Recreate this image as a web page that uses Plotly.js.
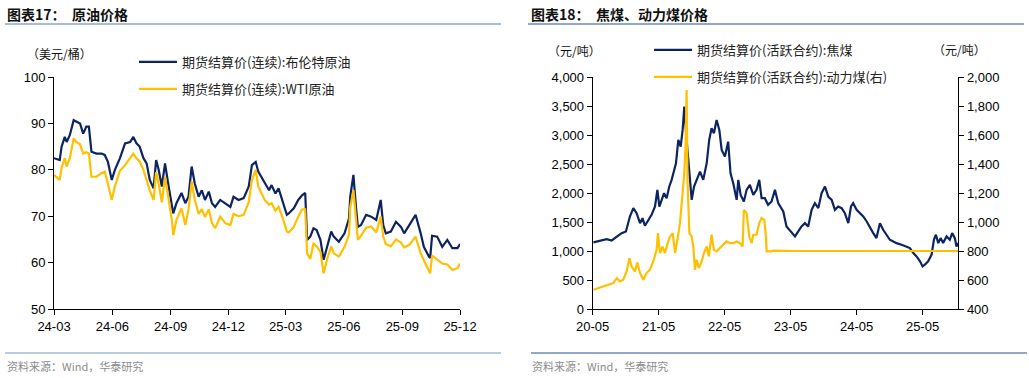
<!DOCTYPE html>
<html>
<head>
<meta charset="utf-8">
<script src="https://cdn.plot.ly/plotly-3.0.1.min.js"></script>
<style>
  html, body { margin: 0; padding: 0; background: #fff; }
  #chart { width: 1029px; height: 378px; }
</style>
</head>
<body>
<div id="chart"></div>
<script>
// ---------- Data: 图表17 原油价格 (美元/桶) ----------
const oilDates = ["2024-03-01","2024-03-10","2024-03-13","2024-03-18","2024-03-21","2024-03-26","2024-04-01","2024-04-05","2024-04-11","2024-04-16","2024-04-21","2024-04-25","2024-04-29","2024-05-07","2024-05-15","2024-05-20","2024-05-25","2024-05-31","2024-06-05","2024-06-13","2024-06-21","2024-06-29","2024-07-04","2024-07-09","2024-07-14","2024-07-20","2024-07-25","2024-07-30","2024-08-05","2024-08-09","2024-08-13","2024-08-18","2024-08-23","2024-08-28","2024-09-03","2024-09-05","2024-09-10","2024-09-18","2024-09-24","2024-09-29","2024-10-04","2024-10-09","2024-10-15","2024-10-20","2024-10-25","2024-10-31","2024-11-05","2024-11-10","2024-11-18","2024-11-26","2024-12-04","2024-12-09","2024-12-17","2024-12-25","2025-01-02","2025-01-07","2025-01-13","2025-01-17","2025-01-27","2025-02-03","2025-02-07","2025-02-13","2025-02-18","2025-02-24","2025-03-03","2025-03-06","2025-03-14","2025-03-21","2025-03-27","2025-04-01","2025-04-04","2025-04-09","2025-04-14","2025-04-19","2025-04-25","2025-04-30","2025-05-06","2025-05-12","2025-05-16","2025-05-24","2025-06-02","2025-06-09","2025-06-11","2025-06-16","2025-06-20","2025-06-23","2025-06-28","2025-07-06","2025-07-14","2025-07-22","2025-07-29","2025-08-02","2025-08-06","2025-08-14","2025-08-22","2025-08-30","2025-09-04","2025-09-12","2025-09-22","2025-09-30","2025-10-05","2025-10-13","2025-10-15","2025-10-18","2025-10-26","2025-11-03","2025-11-11","2025-11-19","2025-11-27","2025-12-01"];
const brent = [82.5,82.1,85,87.1,86,87.5,90.7,90.4,90,87.8,89.3,89.3,83.9,83.5,83.5,83.2,81.7,77.8,80,82.5,85.7,86,87.1,85.7,85,82.5,81.4,77.8,76,82.1,80,76.4,81.4,77,72,70.6,72.8,75,72.8,74.2,80.7,77,74.2,75.6,73.5,75.3,72.8,72,73.5,72.8,72,74.2,73.5,73.9,76.4,81,81.7,79.6,77.4,75.6,76.7,74.9,76,73.5,70.3,70.6,71.7,73.5,74.5,75,64.9,65.6,67.4,67,64.9,60.6,63.4,66.7,65.6,64.5,66.3,69.5,74.2,78.9,72,67.7,68.1,70.3,69.9,69.2,73.5,68.1,66.3,66.7,68.8,67.7,66.3,68.1,70.3,66.3,63.4,61.3,61,65.8,65.6,63.4,64.9,63.1,63.1,64];
const wti = [78.9,77.8,80.5,82.5,80.7,82.5,86.8,86,85.5,83.5,83.8,83.5,78.5,78.5,79.3,79.6,77,73.5,76.5,79.8,81,82.5,83.5,82.5,81.8,80,77.8,75.5,73.5,79.5,77,73,78.5,74.2,69,65.9,69.2,71.7,68.1,71.4,77.5,73.5,70.5,71.5,69.8,71.5,68.5,67.4,69.9,68.5,68.1,70.5,70,70.3,73,77.8,80,76.4,73.5,72.5,72.8,71.2,72,69.8,66.7,66.5,67.7,69.9,71.5,71.5,62,60.8,64.1,63.5,62.3,57.7,61,63.5,62,61.3,63.4,66,72,75.6,68.5,64.9,65.8,67.5,67.8,66.5,69.9,65.6,64,63.5,65,64.3,63.3,63.8,65.6,62,60.5,58.3,57.7,61.5,60.6,59.8,59.6,58.4,58.8,59.8];
const oilNames = ["期货结算价(连续):布伦特原油", "期货结算价(连续):WTI原油"];

// ---------- Data: 图表18 焦煤、动力煤价格 (元/吨) ----------
const cokingDates = ["2020-05-05","2020-06-10","2020-07-17","2020-08-14","2020-09-11","2020-10-08","2020-11-01","2020-11-08","2020-11-23","2020-12-12","2020-12-30","2021-01-18","2021-02-01","2021-02-14","2021-03-05","2021-03-23","2021-04-11","2021-04-24","2021-05-05","2021-05-18","2021-05-31","2021-06-14","2021-06-29","2021-07-12","2021-07-25","2021-08-05","2021-08-18","2021-08-31","2021-09-11","2021-09-20","2021-10-03","2021-10-18","2021-10-31","2021-11-13","2021-11-27","2021-12-16","2022-01-03","2022-01-22","2022-02-05","2022-02-18","2022-03-03","2022-03-18","2022-04-02","2022-04-15","2022-05-03","2022-05-21","2022-06-03","2022-06-18","2022-07-07","2022-07-16","2022-07-29","2022-08-16","2022-08-31","2022-09-18","2022-10-07","2022-10-25","2022-11-09","2022-11-22","2022-12-10","2022-12-28","2023-01-16","2023-02-04","2023-02-22","2023-03-22","2023-04-09","2023-05-07","2023-05-26","2023-06-13","2023-07-01","2023-07-20","2023-08-07","2023-08-26","2023-09-13","2023-10-02","2023-10-20","2023-11-08","2023-11-26","2023-12-15","2024-01-02","2024-01-20","2024-02-08","2024-02-26","2024-03-16","2024-03-31","2024-04-12","2024-05-01","2024-05-19","2024-06-07","2024-06-26","2024-07-14","2024-08-01","2024-08-19","2024-09-07","2024-09-25","2024-10-14","2024-11-01","2024-11-20","2024-12-08","2025-01-05","2025-02-02","2025-02-20","2025-03-11","2025-03-29","2025-04-17","2025-05-01","2025-05-14","2025-06-01","2025-06-20","2025-07-03","2025-07-14","2025-07-27","2025-08-09","2025-08-23","2025-09-11","2025-09-29","2025-10-12","2025-10-27","2025-11-05","2025-11-15"];
const coking = [1148,1176,1205,1182,1251,1308,1337,1423,1595,1739,1653,1480,1566,1435,1538,1624,1767,2054,1767,1882,1997,1911,2112,2226,2398,2513,2915,2800,3087,3489,2915,2398,1882,2112,2226,2370,2226,2513,2915,3116,3030,3259,3087,2743,2628,2886,2341,2169,1882,2226,1968,1853,2054,2140,1968,2054,2226,1911,1911,1796,1853,2054,1825,1681,1423,1308,1251,1337,1423,1480,1423,1710,1825,1739,1997,2112,1939,1882,1710,1767,1739,1653,1480,1767,1825,1710,1653,1595,1509,1394,1308,1222,1480,1366,1280,1194,1165,1136,1107,1079,1050,964,907,821,734,763,821,935,1194,1280,1136,1222,1136,1251,1194,1308,1222,1079,1136];
const thermalDates = ["2020-05-05","2020-06-01","2020-06-29","2020-07-27","2020-08-23","2020-09-11","2020-09-29","2020-10-17","2020-11-05","2020-11-20","2020-12-02","2020-12-21","2021-01-03","2021-01-18","2021-02-05","2021-02-23","2021-03-14","2021-04-01","2021-04-20","2021-04-27","2021-05-08","2021-05-23","2021-06-05","2021-06-20","2021-07-03","2021-07-18","2021-07-31","2021-08-13","2021-08-27","2021-09-09","2021-09-20","2021-09-27","2021-10-03","2021-10-08","2021-10-18","2021-10-31","2021-11-09","2021-11-18","2021-11-27","2021-12-10","2021-12-25","2022-01-07","2022-01-22","2022-02-03","2022-02-18","2022-03-03","2022-03-18","2022-04-05","2022-04-24","2022-05-12","2022-05-31","2022-06-18","2022-07-07","2022-07-25","2022-08-09","2022-08-16","2022-08-31","2022-09-15","2022-09-28","2022-10-07","2022-10-25","2022-11-09","2022-11-22","2022-12-07","2022-12-16","2022-12-20","2023-01-16","2023-01-25","2023-06-01","2024-06-01","2025-11-15"];
const thermal = [533,545,556,568,579,613,590,602,659,751,694,659,721,648,602,648,671,728,808,923,786,831,786,854,900,923,786,877,992,1176,1336,1520,1910,1290,923,900,831,671,740,682,728,786,831,763,912,808,797,820,843,866,854,854,866,854,831,1084,1061,900,854,912,912,992,1027,1015,900,797,797,802,800,800,800];
const coalNames = ["期货结算价(活跃合约):焦煤", "期货结算价(活跃合约):动力煤(右)"];

// ---------- Layout helpers ----------
const W = 1029, H = 378;
const px = v => v / W;
const py = v => 1 - v / H;
const NAVY = "#0c2461";
const GOLD = "#ffc000";
const CJK = "Noto Sans CJK SC, sans-serif";
const NUM = "Liberation Sans, Arial, sans-serif";

const traces = [
  { x: oilDates, y: brent, name: oilNames[0], type: "scatter", mode: "lines",
    line: { color: NAVY, width: 2.2 }, xaxis: "x", yaxis: "y", legend: "legend", legendgroup: "a" },
  { x: oilDates, y: wti, name: oilNames[1], type: "scatter", mode: "lines",
    line: { color: GOLD, width: 2.2 }, xaxis: "x", yaxis: "y", legend: "legend", legendgroup: "b" },
  { x: cokingDates, y: coking, name: coalNames[0], type: "scatter", mode: "lines",
    line: { color: NAVY, width: 2.2 }, xaxis: "x2", yaxis: "y2", legend: "legend2", legendgroup: "c" },
  { x: thermalDates, y: thermal, name: coalNames[1], type: "scatter", mode: "lines",
    line: { color: GOLD, width: 2.2 }, xaxis: "x2", yaxis: "y3", legend: "legend2", legendgroup: "d" }
];

const axisCommon = {
  showgrid: false, zeroline: false, showline: true, linecolor: "#000", linewidth: 1,
  ticks: "outside", ticklen: 5, tickcolor: "#000", tickwidth: 1,
  tickfont: { family: NUM, size: 13, color: "#000" }, fixedrange: true
};
const yDomain = [py(309), py(77)];

const layout = {
  width: W, height: H,
  margin: { l: 0, r: 0, t: 0, b: 0 },
  paper_bgcolor: "#fff", plot_bgcolor: "rgba(0,0,0,0)",
  showlegend: true,
  xaxis: Object.assign({}, axisCommon, {
    domain: [px(54), px(460)], anchor: "y", type: "date",
    range: ["2024-03-01", "2025-12-01"], tick0: "2024-03-01", dtick: "M3", tickformat: "%y-%m"
  }),
  yaxis: Object.assign({}, axisCommon, {
    domain: yDomain, anchor: "x", range: [50, 100], dtick: 10
  }),
  xaxis2: Object.assign({}, axisCommon, {
    domain: [px(592.7), px(958.3)], anchor: "y2", type: "date",
    range: ["2020-05-01", "2025-11-15"], tick0: "2020-05-01", dtick: "M12", tickformat: "%y-%m"
  }),
  yaxis2: Object.assign({}, axisCommon, {
    domain: yDomain, anchor: "x2", range: [0, 4000], dtick: 500, tickformat: ","
  }),
  yaxis3: Object.assign({}, axisCommon, {
    domain: yDomain, anchor: "x2", overlaying: "y2", side: "right",
    range: [400, 2000], dtick: 200, tickformat: ","
  }),
  legend: {
    x: px(134), y: py(47), xanchor: "left", yanchor: "top", itemwidth: 38,
    bgcolor: "rgba(0,0,0,0)", borderwidth: 0, tracegroupgap: 7,
    font: { family: CJK, size: 13, color: "#222" }
  },
  legend2: {
    x: px(649), y: py(35), xanchor: "left", yanchor: "top", itemwidth: 38,
    bgcolor: "rgba(0,0,0,0)", borderwidth: 0, tracegroupgap: 7,
    font: { family: CJK, size: 13, color: "#222" }
  },
  shapes: [
    { type: "line", xref: "paper", yref: "paper", x0: px(5), x1: px(501), y0: py(24), y1: py(24),
      line: { color: "#a7bdd3", width: 2 } },
    { type: "line", xref: "paper", yref: "paper", x0: px(528), x1: px(1024), y0: py(24), y1: py(24),
      line: { color: "#8eaac8", width: 2 } },
    { type: "line", xref: "paper", yref: "paper", x0: px(5), x1: px(501), y0: py(353), y1: py(353),
      line: { color: "#b9cde0", width: 2 } },
    { type: "line", xref: "paper", yref: "paper", x0: px(531), x1: px(1027), y0: py(353), y1: py(353),
      line: { color: "#8eaac8", width: 2 } }
  ],
  annotations: [
    { text: "<b>图表17：  原油价格</b>", xref: "paper", yref: "paper", x: px(5), y: py(14),
      xanchor: "left", yanchor: "middle", showarrow: false, font: { family: CJK, size: 14, color: "#111" } },
    { text: "<b>图表18：  焦煤、动力煤价格</b>", xref: "paper", yref: "paper", x: px(529), y: py(14),
      xanchor: "left", yanchor: "middle", showarrow: false, font: { family: CJK, size: 14, color: "#111" } },
    { text: "（美元/桶）", xref: "paper", yref: "paper", x: px(25), y: py(54),
      xanchor: "left", yanchor: "middle", showarrow: false, font: { family: CJK, size: 12, color: "#111" } },
    { text: "（元/吨）", xref: "paper", yref: "paper", x: px(546), y: py(50),
      xanchor: "left", yanchor: "middle", showarrow: false, font: { family: CJK, size: 12, color: "#111" } },
    { text: "（元/吨）", xref: "paper", yref: "paper", x: px(931), y: py(49),
      xanchor: "left", yanchor: "middle", showarrow: false, font: { family: CJK, size: 12, color: "#111" } },
    { text: "资料来源：Wind，华泰研究", xref: "paper", yref: "paper", x: px(5), y: py(366),
      xanchor: "left", yanchor: "middle", showarrow: false, font: { family: CJK, size: 11, color: "#8c8c8c" } },
    { text: "资料来源：Wind，华泰研究", xref: "paper", yref: "paper", x: px(530), y: py(366),
      xanchor: "left", yanchor: "middle", showarrow: false, font: { family: CJK, size: 11, color: "#8c8c8c" } }
  ]
};

Plotly.newPlot("chart", traces, layout, { staticPlot: true, displayModeBar: false });
</script>
</body>
</html>
